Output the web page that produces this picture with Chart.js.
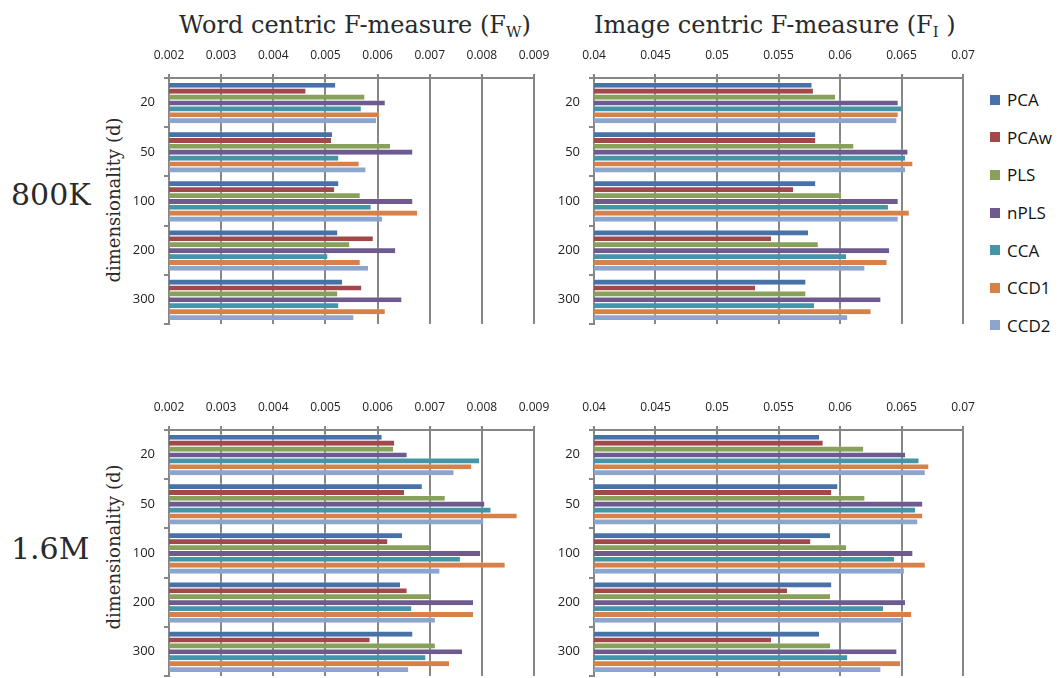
<!DOCTYPE html>
<html>
<head>
<meta charset="utf-8">
<script src="https://cdn.jsdelivr.net/npm/chart.js@4.4.1/dist/chart.umd.min.js"></script>
<style>
  body { margin: 0; width: 1059px; height: 678px; overflow: hidden; background: #fff; position: relative; }
  canvas { position: absolute; }
  .serif { position: absolute; font-family: "DejaVu Serif", serif; color: #2a2a2a; white-space: nowrap; line-height: 1; }
  .title { font-size: 24px; top: 13px; }
  .title sub { font-size: 15px; vertical-align: -4px; }
  .big { font-size: 30px; left: 11px; }
  .ylab { font-size: 18px; width: 220px; text-align: center; transform: rotate(-90deg); }
  #legend { position: absolute; left: 990px; top: 81px; font-family: "Open Sans", sans-serif; font-size: 17px; color: #111; }
  #legend div { height: 37.6px; display: flex; align-items: center; }
  #legend span.box { display: inline-block; width: 10px; height: 10px; margin-right: 7px; }
</style>
</head>
<body>
<div class="serif title" style="left:179px">Word centric F-measure (F<sub>W</sub>)</div>
<div class="serif title" style="left:594px">Image centric F-measure (F<sub>I</sub> )</div>
<div class="serif big" style="top:180px">800K</div>
<div class="serif big" style="top:534px">1.6M</div>
<div class="serif ylab" style="left:4px; top:191px">dimensionality (d)</div>
<div class="serif ylab" style="left:4px; top:538px">dimensionality (d)</div>
<div id="legend"></div>

<canvas id="fw800" width="460" height="330" style="left:100px; top:0px"></canvas>
<canvas id="fi800" width="440" height="330" style="left:540px; top:0px"></canvas>
<canvas id="fw16" width="460" height="330" style="left:100px; top:352px"></canvas>
<canvas id="fi16" width="440" height="330" style="left:540px; top:352px"></canvas>

<script>
const dims = ['20', '50', '100', '200', '300'];
const methods = ['PCA', 'PCAw', 'PLS', 'nPLS', 'CCA', 'CCD1', 'CCD2'];
const colors = ['#4772a7', '#a1484b', '#87a15a', '#6e5a8f', '#4595a9', '#d7804a', '#8ba5cd'];

// one row per method (same order as `methods`), one value per dimensionality
const fw800k = [
  [0.00519, 0.00513, 0.00525, 0.00523, 0.00532],
  [0.00462, 0.00511, 0.00517, 0.00591, 0.00569],
  [0.00575, 0.00624, 0.00566, 0.00546, 0.00523],
  [0.00614, 0.00667, 0.00667, 0.00634, 0.00646],
  [0.00568, 0.00525, 0.00587, 0.00504, 0.00525],
  [0.00603, 0.00564, 0.00676, 0.00566, 0.00614],
  [0.00597, 0.00577, 0.00609, 0.00582, 0.00554]
];
const fi800k = [
  [0.0577, 0.0580, 0.0580, 0.0574, 0.0572],
  [0.0578, 0.0580, 0.0562, 0.0544, 0.0531],
  [0.0596, 0.0611, 0.0601, 0.0582, 0.0572],
  [0.0647, 0.0655, 0.0647, 0.0640, 0.0633],
  [0.0650, 0.0653, 0.0639, 0.0605, 0.0579],
  [0.0647, 0.0659, 0.0656, 0.0638, 0.0625],
  [0.0646, 0.0653, 0.0647, 0.0620, 0.0606]
];
const fw16m = [
  [0.00608, 0.00685, 0.00647, 0.00643, 0.00667],
  [0.00632, 0.00651, 0.00619, 0.00656, 0.00585],
  [0.00630, 0.00729, 0.00700, 0.00700, 0.00710],
  [0.00656, 0.00805, 0.00797, 0.00783, 0.00762],
  [0.00795, 0.00817, 0.00758, 0.00665, 0.00692],
  [0.00780, 0.00867, 0.00844, 0.00783, 0.00737],
  [0.00746, 0.00803, 0.00719, 0.00710, 0.00659]
];
const fi16m = [
  [0.0583, 0.0598, 0.0592, 0.0593, 0.0583],
  [0.0586, 0.0593, 0.0576, 0.0557, 0.0544],
  [0.0619, 0.0620, 0.0605, 0.0592, 0.0592],
  [0.0653, 0.0667, 0.0659, 0.0653, 0.0646],
  [0.0664, 0.0661, 0.0644, 0.0635, 0.0606],
  [0.0672, 0.0667, 0.0669, 0.0658, 0.0649],
  [0.0669, 0.0663, 0.0652, 0.0651, 0.0633]
];

const axisGray = '#868686';

function makePanel(id, series, xMin, xMax, xStep, fmt, yWidth, rightPad) {
  new Chart(document.getElementById(id), {
    type: 'bar',
    data: {
      labels: dims,
      datasets: methods.map((m, i) => ({
        label: m,
        data: series[i],
        backgroundColor: colors[i],
        borderColor: 'rgba(255,255,255,0.3)',
        borderWidth: { top: 1, right: 0, bottom: 0, left: 0 },
        borderSkipped: false,
        categoryPercentage: 0.84,
        barPercentage: 1
      }))
    },
    options: {
      indexAxis: 'y',
      responsive: false,
      animation: false,
      layout: { padding: { top: 0, right: rightPad, bottom: 6, left: 0 } },
      plugins: { legend: { display: false }, tooltip: { enabled: false } },
      scales: {
        x: {
          position: 'top',
          z: 1, // vertical gridlines run over the bars
          min: xMin,
          max: xMax,
          ticks: {
            stepSize: xStep,
            maxRotation: 0,
            autoSkip: false,
            padding: 11,
            color: '#222',
            font: { family: 'Open Sans', size: 12 },
            callback: fmt
          },
          grid: { color: axisGray, lineWidth: 2, tickLength: 4 },
          border: { color: axisGray, width: 2 },
          // fixed axis band so every panel lines up; label overhang is covered by layout padding
          afterFit: s => { s.height = 78; s.paddingLeft = 0; s.paddingRight = 0; }
        },
        y: {
          z: 1,
          ticks: { padding: 9, color: '#222', font: { family: 'Open Sans', size: 13 } },
          grid: { drawOnChartArea: false, tickLength: 5, color: axisGray, lineWidth: 2 },
          border: { color: axisGray, width: 2 },
          afterFit: s => { s.width = yWidth; s.paddingTop = 0; s.paddingBottom = 0; }
        }
      }
    }
  });
}

const fmtW = v => v.toFixed(3);
const fmtI = v => String(+v.toFixed(3));

makePanel('fw800', fw800k, 0.002, 0.009, 0.001, fmtW, 69, 26);
makePanel('fi800', fi800k, 0.04, 0.07, 0.005, fmtI, 54, 17);
makePanel('fw16', fw16m, 0.002, 0.009, 0.001, fmtW, 69, 26);
makePanel('fi16', fi16m, 0.04, 0.07, 0.005, fmtI, 54, 17);

// legend entries share the dataset colours
const legend = document.getElementById('legend');
methods.forEach((m, i) => {
  const row = document.createElement('div');
  row.innerHTML = '<span class="box" style="background:' + colors[i] + '"></span>' + m;
  legend.appendChild(row);
});
</script>
</body>
</html>
